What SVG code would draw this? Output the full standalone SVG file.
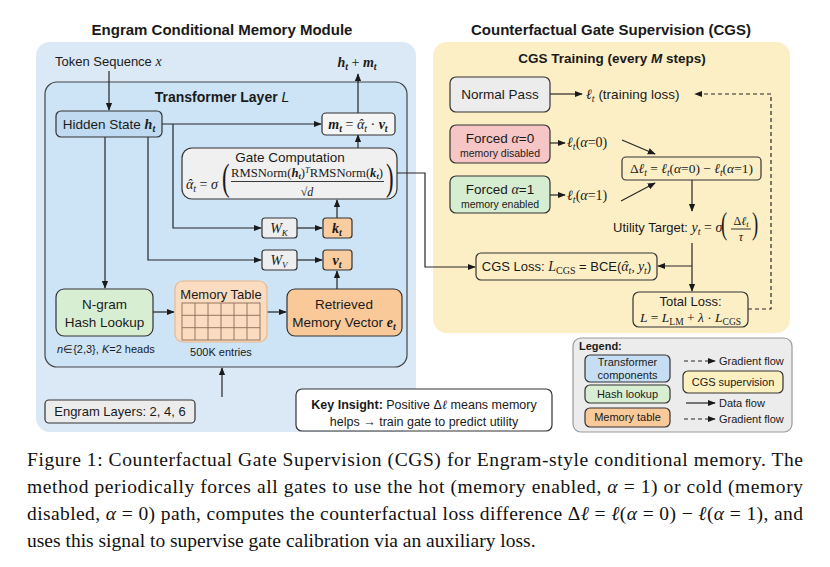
<svg xmlns="http://www.w3.org/2000/svg" width="830" height="567" viewBox="0 0 830 567">
<defs>
<marker id="ah" viewBox="0 0 10 10" refX="9" refY="5" markerWidth="8" markerHeight="8" orient="auto" markerUnits="userSpaceOnUse">
<path d="M0,1 L10,5 L0,9 z" fill="#1a1a1a"/>
</marker>
<style>
.s{font-family:"Liberation Sans",Arial,sans-serif;fill:#1a1a1a}
.m{font-family:"Liberation Serif","Times New Roman",serif;font-style:italic;fill:#1a1a1a}
.r{font-family:"Liberation Serif","Times New Roman",serif;fill:#1a1a1a}
.bi{font-weight:bold;font-style:italic}
.b{font-weight:bold}
.up{font-style:normal}
.ttl{font-size:15px;font-weight:bold}
.c{text-anchor:middle}
.ln{fill:none;stroke:#262626;stroke-width:1.2}
.da{fill:none;stroke:#262626;stroke-width:1.2;stroke-dasharray:4 3}
.node{stroke:#333;stroke-width:1.2}
.cap{font-family:"Liberation Serif","Times New Roman",serif;font-size:19.5px;fill:#111}
</style>
</defs>
<rect width="830" height="567" fill="#fff"/>

<!-- titles -->
<text class="s ttl c" x="222" y="35">Engram Conditional Memory Module</text>
<text class="s ttl c" x="611" y="35">Counterfactual Gate Supervision (CGS)</text>

<!-- panels -->
<g id="left-panel">
<rect x="36" y="42" width="380" height="390" rx="14" fill="#dbe9f6"/>
<text class="s" x="55" y="66" font-size="13">Token Sequence <tspan class="m" font-size="14">x</tspan></text>
<text class="m c" x="357" y="67" font-size="14"><tspan class="bi">h</tspan><tspan class="bi" font-size="10" dy="3">t</tspan><tspan dy="-3" class="up"> + </tspan><tspan class="bi">m</tspan><tspan class="bi" font-size="10" dy="3">t</tspan></text>
</g>
<g id="transformer-layer">
<rect x="45" y="82" width="362" height="285" rx="12" fill="#cde3f6" stroke="#444" stroke-width="1.2"/>
<text class="s c b" x="222" y="102" font-size="14">Transformer Layer <tspan font-style="italic" font-weight="normal">L</tspan></text>
</g>
<g id="right-panel">
<rect x="433" y="42" width="357" height="291" rx="14" fill="#fcefc6"/>
<text class="s c b" x="612" y="63" font-size="13.5">CGS Training (every <tspan font-style="italic">M</tspan> steps)</text>
</g>

<!-- connectors -->
<g id="connectors">
<path class="ln" d="M109,71 V110" marker-end="url(#ah)"/>
<path class="ln" d="M162,124 H321" marker-end="url(#ah)"/>
<path class="ln" d="M358,113 V74" marker-end="url(#ah)"/>
<path class="ln" d="M358,148 V135" marker-end="url(#ah)"/>
<path class="ln" d="M173,124 V228 H261" marker-end="url(#ah)"/>
<path class="ln" d="M148,137 V260 H261" marker-end="url(#ah)"/>
<path class="ln" d="M105,137 V288" marker-end="url(#ah)"/>
<path class="ln" d="M297,228 H322" marker-end="url(#ah)"/>
<path class="ln" d="M297,260 H322" marker-end="url(#ah)"/>
<path class="ln" d="M337,218 V200" marker-end="url(#ah)"/>
<path class="ln" d="M337,289 V271" marker-end="url(#ah)"/>
<path class="ln" d="M153,312 H174" marker-end="url(#ah)"/>
<path class="ln" d="M267,312 H286" marker-end="url(#ah)"/>
<path class="ln" d="M222,397 V368" marker-end="url(#ah)"/>
<path class="ln" d="M397,173 H425 V267 H475" marker-end="url(#ah)"/>
<path class="ln" d="M550,94 H582" marker-end="url(#ah)"/>
<path class="da" d="M748,309 H771 V94 H695" marker-end="url(#ah)"/>
<path class="ln" d="M550,143 H565" marker-end="url(#ah)"/>
<path class="ln" d="M550,195 H565" marker-end="url(#ah)"/>
<path class="ln" d="M622,140 L655,154" marker-end="url(#ah)"/>
<path class="ln" d="M621,201 L655,183" marker-end="url(#ah)"/>
<path class="ln" d="M692,180 V211" marker-end="url(#ah)"/>
<path class="ln" d="M692,243 V291" marker-end="url(#ah)"/>
<path class="ln" d="M692,266 H658" marker-end="url(#ah)"/>
</g>

<!-- left nodes -->
<g id="hidden-state">
<rect class="node" x="56" y="111" width="106" height="26" rx="5" fill="#c0daf1"/>
<text class="s c" x="109" y="129" font-size="13.5">Hidden State <tspan class="m bi" font-size="14">h</tspan><tspan class="m bi" font-size="10" dy="3">t</tspan></text>
</g>
<g id="memory-output">
<rect class="node" x="322" y="113" width="73" height="22" rx="4" fill="#f5f5f5"/>
<text class="m c" x="358" y="129" font-size="14"><tspan class="bi">m</tspan><tspan class="bi" font-size="10" dy="3">t</tspan><tspan dy="-3" class="up"> = </tspan>α<tspan dx="-6">ˆ</tspan><tspan font-size="10" dx="1.2" dy="3">t</tspan><tspan dy="-3" class="up"> · </tspan><tspan class="bi">v</tspan><tspan class="bi" font-size="10" dy="3">t</tspan></text>
</g>
<g id="gate-computation">
<rect class="node" x="182" y="148" width="215" height="51" rx="10" fill="#f0f0f0"/>
<text class="s c" x="290" y="162" font-size="13.5">Gate Computation</text>
<text class="m" x="186" y="189" font-size="14">α<tspan dx="-6">ˆ</tspan><tspan font-size="10" dx="1.2" dy="3">t</tspan><tspan dy="-3" class="up"> = </tspan>σ</text>
<text class="r" transform="translate(222,190) scale(0.6,1)" font-size="38">(</text>
<text class="r c" x="307" y="177" font-size="12" textLength="152" lengthAdjust="spacingAndGlyphs">RMSNorm(<tspan class="bi">h</tspan><tspan class="bi" font-size="8" dy="2">t</tspan><tspan dy="-2">)</tspan><tspan class="m" font-size="8" dy="-4">T</tspan><tspan dy="4">RMSNorm(</tspan><tspan class="bi">k</tspan><tspan class="bi" font-size="8" dy="2">t</tspan><tspan dy="-2">)</tspan></text>
<line x1="231" y1="181.5" x2="384" y2="181.5" stroke="#222" stroke-width="0.9"/>
<text class="r c" x="307" y="196" font-size="12">√<tspan class="m">d</tspan></text>
<text class="r" transform="translate(386,190) scale(0.6,1)" font-size="38">)</text>
</g>
<g id="wk">
<rect class="node" x="262" y="218" width="35" height="20" rx="3" fill="#eeeeee"/>
<text class="m c" x="279" y="233" font-size="14">W<tspan font-size="9" dy="3">K</tspan></text>
</g>
<g id="kt">
<rect class="node" x="323" y="218" width="29" height="20" rx="3" fill="#f9cd9f"/>
<text class="m c" x="337" y="233" font-size="14"><tspan class="bi">k</tspan><tspan class="bi" font-size="10" dy="3">t</tspan></text>
</g>
<g id="wv">
<rect class="node" x="262" y="250" width="35" height="20" rx="3" fill="#eeeeee"/>
<text class="m c" x="279" y="265" font-size="14">W<tspan font-size="9" dy="3">V</tspan></text>
</g>
<g id="vt">
<rect class="node" x="323" y="250" width="29" height="20" rx="3" fill="#f9cd9f"/>
<text class="m c" x="337" y="265" font-size="14"><tspan class="bi">v</tspan><tspan class="bi" font-size="10" dy="3">t</tspan></text>
</g>
<g id="ngram">
<rect class="node" x="56" y="289" width="97" height="47" rx="8" fill="#d8eed3"/>
<text class="s c" x="104.5" y="309" font-size="13.5">N-gram</text>
<text class="s c" x="104.5" y="327" font-size="13.5">Hash Lookup</text>
<text class="s" x="57" y="353" font-size="11"><tspan font-style="italic">n</tspan>∈{2,3}, <tspan font-style="italic">K</tspan>=2 heads</text>
</g>
<g id="memory-table">
<rect x="175" y="281" width="92" height="61" rx="8" fill="#fbdcc0" stroke="#eab98b" stroke-width="1.2"/>
<text class="s c" x="221" y="299" font-size="13">Memory Table</text>
<g stroke="#8a6c55" stroke-width="0.9" fill="none">
<rect x="182" y="303" width="78" height="37"/>
<path d="M195,303 V340 M208,303 V340 M221,303 V340 M234,303 V340 M247,303 V340 M182,315.3 H260 M182,327.7 H260"/>
</g>
<text class="s c" x="221" y="356" font-size="11">500K entries</text>
</g>
<g id="retrieved">
<rect class="node" x="287" y="289" width="115" height="47" rx="8" fill="#f9c99a"/>
<text class="s c" x="344" y="309" font-size="13.5">Retrieved</text>
<text class="s c" x="344" y="327" font-size="13.5">Memory Vector <tspan class="m bi" font-size="14">e</tspan><tspan class="m bi" font-size="10" dy="3">t</tspan></text>
</g>
<g id="engram-layers">
<rect class="node" x="45" y="400" width="150" height="23" rx="4" fill="#ececec"/>
<text class="s c" x="120" y="416" font-size="13">Engram Layers: 2, 4, 6</text>
</g>
<g id="key-insight">
<rect class="node" x="296" y="389" width="256" height="42" rx="6" fill="#ffffff"/>
<text class="s c" x="424" y="409" font-size="12.5"><tspan class="b">Key Insight:</tspan> Positive Δ<tspan class="m">ℓ</tspan> means memory</text>
<text class="s c" x="424" y="426" font-size="12.5">helps → train gate to predict utility</text>
</g>

<!-- right nodes -->
<g id="normal-pass">
<rect class="node" x="450" y="77" width="100" height="35" rx="6" fill="#ececec"/>
<text class="s c" x="500" y="99" font-size="13.5">Normal Pass</text>
<text class="s" x="586" y="99" font-size="13.5"><tspan class="m" font-size="14">ℓ</tspan><tspan class="m" font-size="10" dy="3">t</tspan><tspan dy="-3"> (training loss)</tspan></text>
</g>
<g id="forced-0">
<rect class="node" x="450" y="125" width="100" height="38" rx="6" fill="#f6c5c5"/>
<text class="s c" x="500" y="143" font-size="13.5">Forced <tspan class="m" font-size="14">α</tspan>=0</text>
<text class="s c" x="500" y="157" font-size="10.5">memory disabled</text>
<text class="m" x="567" y="147" font-size="14">ℓ<tspan font-size="10" dy="3">t</tspan><tspan dy="-3" class="up">(</tspan>α<tspan class="up">=0)</tspan></text>
</g>
<g id="forced-1">
<rect class="node" x="450" y="176" width="100" height="37" rx="6" fill="#d6edd1"/>
<text class="s c" x="500" y="194" font-size="13.5">Forced <tspan class="m" font-size="14">α</tspan>=1</text>
<text class="s c" x="500" y="208" font-size="10.5">memory enabled</text>
<text class="m" x="567" y="200" font-size="14">ℓ<tspan font-size="10" dy="3">t</tspan><tspan dy="-3" class="up">(</tspan>α<tspan class="up">=1)</tspan></text>
</g>
<g id="delta-loss">
<rect class="node" x="622" y="157" width="139" height="23" rx="4" fill="#fcefc6"/>
<text class="m c" x="691.5" y="173" font-size="13.5"><tspan class="up">Δ</tspan>ℓ<tspan font-size="9.5" dy="3">t</tspan><tspan dy="-3" class="up"> = </tspan>ℓ<tspan font-size="9.5" dy="3">t</tspan><tspan dy="-3" class="up">(</tspan>α<tspan class="up">=0) − </tspan>ℓ<tspan font-size="9.5" dy="3">t</tspan><tspan dy="-3" class="up">(</tspan>α<tspan class="up">=1)</tspan></text>
</g>
<g id="utility-target">
<text class="s" x="613" y="232" font-size="13">Utility Target: <tspan class="m" font-size="14">y</tspan><tspan class="m" font-size="10" dy="3">t</tspan><tspan class="r" font-size="14" dy="-3"> = </tspan><tspan class="m" font-size="14">σ</tspan></text>
<text class="r" transform="translate(721,234) scale(0.6,1)" font-size="31">(</text>
<text class="m c" x="741" y="225" font-size="12"><tspan class="up">Δ</tspan>ℓ<tspan font-size="8.5" dy="2">t</tspan></text>
<line x1="731" y1="229" x2="751" y2="229" stroke="#222" stroke-width="0.9"/>
<text class="m c" x="741" y="241" font-size="12">τ</text>
<text class="r" transform="translate(752,234) scale(0.6,1)" font-size="31">)</text>
</g>
<g id="cgs-loss">
<rect class="node" x="476" y="253" width="181" height="27" rx="5" fill="#fcefc6"/>
<text class="s c" x="566.5" y="271" font-size="13">CGS Loss: <tspan class="m" font-size="14">L</tspan><tspan class="r" font-size="10" dy="3">CGS</tspan><tspan dy="-3"> = BCE(</tspan><tspan class="m" font-size="14">α</tspan><tspan class="m" font-size="14" dx="-6">ˆ</tspan><tspan class="m" font-size="10" dx="1.2" dy="3">t</tspan><tspan class="m" dy="-3">, </tspan><tspan class="m" font-size="14">y</tspan><tspan class="m" font-size="10" dy="3">t</tspan><tspan dy="-3">)</tspan></text>
</g>
<g id="total-loss">
<rect class="node" x="633" y="292" width="115" height="35" rx="6" fill="#fcefc6"/>
<text class="s c" x="690.5" y="306" font-size="13">Total Loss:</text>
<text class="m c" x="690.5" y="322" font-size="13.5">L<tspan class="up"> = </tspan>L<tspan class="up" font-size="9.5" dy="3">LM</tspan><tspan class="up" dy="-3"> + </tspan>λ<tspan class="up"> · </tspan>L<tspan class="up" font-size="9.5" dy="3">CGS</tspan></text>
</g>

<!-- legend -->
<g id="legend">
<rect x="573" y="338" width="219" height="94" rx="8" fill="#ececec" stroke="#9a9a9a" stroke-width="1.2"/>
<text class="s b" x="579" y="350" font-size="11">Legend:</text>
<rect class="node" x="585" y="355" width="85" height="27" rx="5" fill="#c6def4"/>
<text class="s c" x="627.5" y="366" font-size="11">Transformer</text>
<text class="s c" x="627.5" y="379" font-size="11">components</text>
<rect class="node" x="585" y="385" width="85" height="18" rx="5" fill="#d8eed3"/>
<text class="s c" x="627.5" y="398" font-size="11">Hash lookup</text>
<rect class="node" x="585" y="408" width="85" height="19" rx="5" fill="#f9c99a"/>
<text class="s c" x="627.5" y="421" font-size="11">Memory table</text>
<rect class="node" x="683" y="371" width="100" height="22" rx="5" fill="#fdf0c0"/>
<text class="s c" x="733" y="386" font-size="11">CGS supervision</text>
<path class="da" d="M684,361 H715" marker-end="url(#ah)"/>
<text class="s" x="719" y="365" font-size="11">Gradient flow</text>
<path class="ln" d="M686,403 H715" marker-end="url(#ah)"/>
<text class="s" x="719" y="407" font-size="11">Data flow</text>
<path class="da" d="M684,419 H715" marker-end="url(#ah)"/>
<text class="s" x="719" y="423" font-size="11">Gradient flow</text>
</g>

<!-- caption -->
<g id="caption">
<text class="cap" x="27" y="466" textLength="776" lengthAdjust="spacing">Figure 1:  Counterfactual Gate Supervision (CGS) for Engram-style conditional memory.  The</text>
<text class="cap" x="27" y="493" textLength="776" lengthAdjust="spacing">method periodically forces all gates to use the hot (memory enabled, <tspan font-style="italic">α</tspan> = 1) or cold (memory</text>
<text class="cap" x="27" y="520" textLength="776" lengthAdjust="spacing">disabled, <tspan font-style="italic">α</tspan> = 0) path, computes the counterfactual loss difference Δ<tspan font-style="italic">ℓ</tspan> = <tspan font-style="italic">ℓ</tspan>(<tspan font-style="italic">α</tspan> = 0) − <tspan font-style="italic">ℓ</tspan>(<tspan font-style="italic">α</tspan> = 1), and</text>
<text class="cap" x="27" y="547">uses this signal to supervise gate calibration via an auxiliary loss.</text>
</g>
</svg>
